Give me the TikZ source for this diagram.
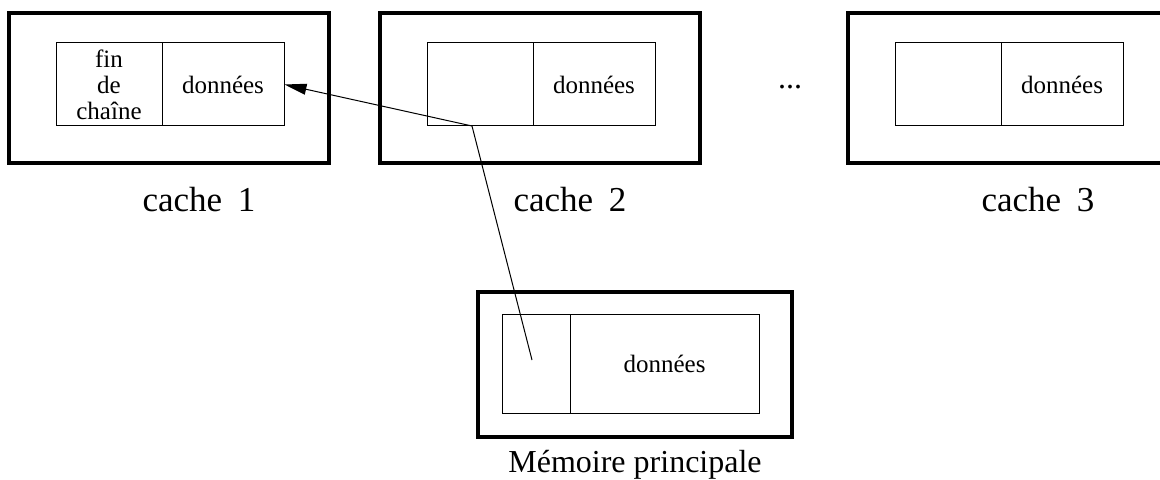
\documentclass[tikz,border=0pt]{standalone}
\usepackage{fontspec}
\setmainfont{Liberation Serif}
\usetikzlibrary{arrows.meta}
\begin{document}
\begin{tikzpicture}[x=0.5pt,y=-0.5pt,
  cadre/.style={draw,line width=2.3pt},
  case/.style={draw,line width=0.5pt,inner sep=0pt,minimum height=41.5pt,
    font=\fontsize{12.5}{13}\selectfont},
  titre/.style={anchor=base,font=\fontsize{16}{19}\selectfont},
  fleche/.style={line width=0.5pt,-{Triangle[length=11pt,width=5.5pt]}}]
\useasboundingbox (0,0) rectangle (1160,480);
% les trois caches
\foreach \x/\n in {56/1,427/2,895/3}{
  \draw[cadre] (\x-47,13) rectangle (\x+273,163);
  \node[case,minimum width=53pt] (c\n g) at (\x+53,84.5) {};
  \node[case,minimum width=61pt] (c\n d) at (\x+167,84.5) {données};
  \node[titre,font=\fontsize{17.5}{20}\selectfont] (t\n) at (\x+143,212) {cache\hspace{0.45em}\n};
}
\node[align=center,inner sep=0pt,font=\fontsize{12.5}{13}\selectfont] (fin) at (c1g) {fin\\de\\chaîne};
\node[font=\fontsize{16}{19}\selectfont,inner sep=0pt] (points) at (790,87) {...};
% memoire principale
\draw[cadre] (478,292) rectangle (792,437);
\node[case,minimum width=34pt,minimum height=49pt] (mg) at (536,364) {};
\node[case,minimum width=94.5pt,minimum height=49pt] (md) at (664.5,364) {données};
\node[titre] (tm) at (635,472) {Mémoire principale};
\coordinate (src) at (532,360);
\coordinate (coude) at (472,126);
\draw[fleche] (src) -- (coude) -- (c1d.east);
\end{tikzpicture}
\end{document}
